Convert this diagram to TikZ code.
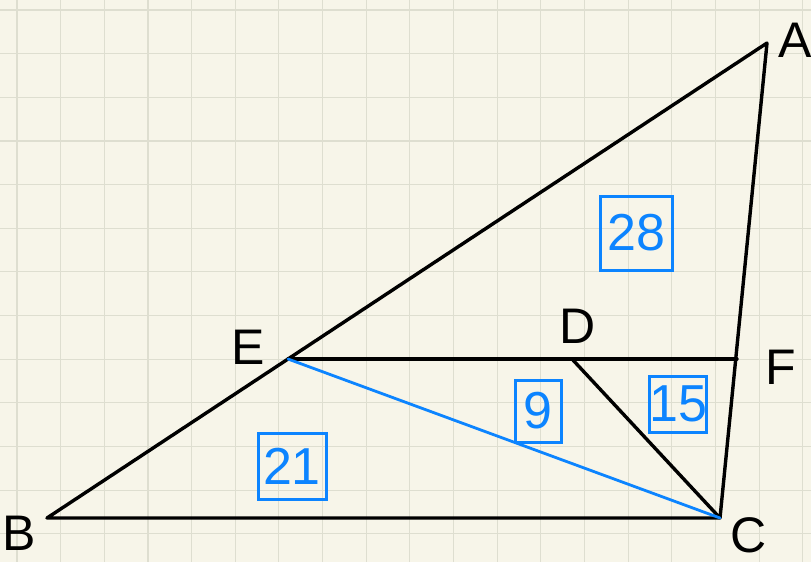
\documentclass[tikz,border=0pt]{standalone}
\usepackage{fontspec}
\setmainfont{Liberation Sans}
\definecolor{paper}{RGB}{247,245,233}
\definecolor{gridc}{RGB}{222,222,208}
\definecolor{pen}{RGB}{12,132,255}
\begin{document}
\begin{tikzpicture}[x=1pt,y=-1pt,
  seg/.style={line width=3.4pt,line cap=round,line join=round},
  bluseg/.style={draw=pen,line width=2.8pt,line cap=round},
  ptlabel/.style={font=\fontsize{50}{50}\selectfont,inner sep=0pt},
  area/.style={draw=pen,line width=3pt,text=pen,font=\fontsize{52}{52}\selectfont,inner sep=0pt,minimum width=#1,minimum height=62pt},
]
\useasboundingbox (0,0) rectangle (811,562);
\fill[paper] (0,0) rectangle (811,562);
\foreach \i in {0,...,18} \draw[gridc,line width=1.1pt] ({17+43.65*\i},0) -- ({17+43.65*\i},562);
\foreach \j in {0,...,12} \draw[gridc,line width=1.1pt] (0,{10+43.65*\j}) -- (811,{10+43.65*\j});
\coordinate (A) at (767,43);
\coordinate (B) at (47,518);
\coordinate (C) at (720,518);
\coordinate (E) at (288,359);
\coordinate (D) at (572,359);
\coordinate (F) at (737,359);
\draw[seg] (B) -- (A) -- (C) -- cycle;
\draw[seg] (E) -- (F);
\draw[seg] (D) -- (C);
\draw[bluseg] (E) -- (C);
\node[ptlabel] (lA) at (795,40) {A};
\node[ptlabel] (lB) at (19,533) {B};
\node[ptlabel] (lC) at (749,535) {C};
\node[ptlabel] (lE) at (248,347) {E};
\node[ptlabel] (lD) at (578,326) {D};
\node[ptlabel] (lF) at (781,367) {F};
\node[area=72pt,minimum height=74pt] (n28) at (636,233) {28};
\node[area=46pt] (n9) at (538,411) {9};
\node[area=54pt,minimum height=56pt] (n15) at (678,404) {15};
\node[area=68pt,minimum height=66pt] (n21) at (292,466) {21};
\end{tikzpicture}
\end{document}
